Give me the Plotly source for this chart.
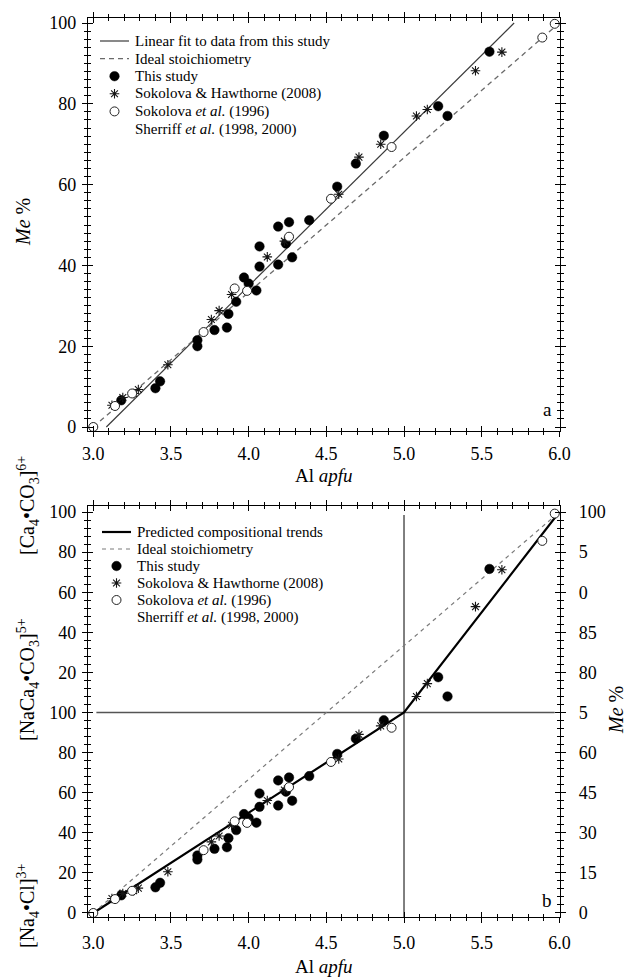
import plotly.graph_objects as go

# ---------------------------------------------------------------------------
# Data: Me % versus Al apfu
# ---------------------------------------------------------------------------
# This study (filled circles)
al_this = [3.18, 3.40, 3.43, 3.67, 3.67, 3.78, 3.86, 3.87, 3.92, 3.97, 4.00,
           4.05, 4.07, 4.07, 4.19, 4.19, 4.24, 4.26, 4.28, 4.39, 4.57, 4.69,
           4.87, 5.22, 5.28, 5.55]
me_this = [6.6, 9.6, 11.3, 21.5, 20.0, 24.0, 24.6, 28.0, 31.0, 37.0, 35.5,
           33.8, 44.7, 39.7, 49.6, 40.2, 45.4, 50.7, 42.0, 51.2, 59.5, 65.2,
           72.1, 79.4, 77.0, 92.9]

# Sokolova & Hawthorne (2008) (asterisks)
al_sh08 = [3.12, 3.19, 3.26, 3.29, 3.48, 3.76, 3.81, 3.89, 4.12, 4.23, 4.58,
           4.71, 4.85, 5.08, 5.15, 5.46, 5.63]
me_sh08 = [5.4, 7.3, 8.3, 9.3, 15.4, 26.6, 28.8, 32.8, 42.1, 46.0, 57.6,
           66.8, 70.0, 77.0, 78.6, 88.2, 92.8]

# Sokolova et al. (1996), Sherriff et al. (1998, 2000) (open circles)
al_sk96 = [3.00, 3.14, 3.25, 3.71, 3.91, 3.99, 4.26, 4.53, 4.92, 5.89, 5.97]
me_sk96 = [0.0, 5.2, 8.3, 23.5, 34.3, 33.7, 47.1, 56.5, 69.3, 96.4, 99.8]

# Linear fit to this study
fit_slope = 38.10
fit_intercept = -117.5

# Ideal stoichiometry
ideal_al = [3.0, 6.0]
ideal_me = [0.0, 100.0]

# Predicted compositional trend (Na4Cl -> NaCa4CO3 -> Ca4CO3)
trend_al = [3.0, 5.0, 6.0]
trend_me = [0.0, 75.0, 100.0]
join_al = 5.0
join_me = 75.0

# Tick labels
x_ticks = [3.0, 3.5, 4.0, 4.5, 5.0, 5.5, 6.0]
x_ticktext = ["3.0", "3.5", "4.0", "4.5", "5.0", "5.5", "6.0"]
a_y_ticks = [0, 20, 40, 60, 80, 100]
b_left_ticks = [0, 20, 40, 60, 80, 100, 120, 140, 160, 180, 200]
b_left_ticktext = ["0", "20", "40", "60", "80", "100", "20", "40", "60", "80", "100"]
b_right_me = [0, 15, 30, 45, 60, 75, 80, 85, 90, 95, 100]
b_right_ticktext = ["0", "15", "30", "45", "60", "5", "80", "85", "0", "5", "100"]

# Legend labels
lbl_fit = "Linear fit to data from this study"
lbl_trend = "Predicted compositional trends"
lbl_ideal = "Ideal stoichiometry"
lbl_this = "This study"
lbl_sh08 = "Sokolova &amp; Hawthorne (2008)"
lbl_sk96 = "Sokolova <i>et al.</i> (1996)"
lbl_sk96b = "Sherriff <i>et al.</i> (1998, 2000)"


def me_to_join(m):
    """Me % -> position along the two joins (0-100 lower, 100-200 upper)."""
    if m <= join_me:
        return m / join_me * 100.0
    return 100.0 + (m - join_me) / (100.0 - join_me) * 100.0


def conv(values):
    return [me_to_join(v) for v in values]


# ---------------------------------------------------------------------------
# Page geometry
# ---------------------------------------------------------------------------
W, H = 628, 978
M_L, M_R, M_T, M_B = 88, 68, 18, 61
PW, PH = W - M_L - M_R, H - M_T - M_B


def px_x(p):
    return (p - M_L) / PW


def px_y(p):
    return (H - M_B - p) / PH


X_RANGE = [2.966, 6.004]
A_RANGE = [-0.99, 101.24]
B_RANGE = [-2.0, 203.0]
A_DOMAIN = [px_y(431), 1.0]
B_DOMAIN = [0.0, px_y(506)]

FONT = "Liberation Serif, Times New Roman, serif"
tickfont = dict(family=FONT, size=18, color="black")

fig = go.Figure()

# ---------------------------- styles ---------------------------------------
line_fit = dict(color="#3a3a3a", width=1.2)
line_ideal_a = dict(color="#6a6a6a", width=1.3, dash="5px,4px")
line_ideal_b = dict(color="#7a7a7a", width=1.2, dash="4px,4px")
line_trend = dict(color="black", width=2.2)
line_guide = dict(color="#555555", width=1.5)
marker_this = dict(symbol="circle", size=9.5, color="black",
                   line=dict(color="black", width=0.5))
marker_sh08 = dict(symbol="asterisk-open", size=8, color="#151515",
                   line=dict(color="#151515", width=1.1))
marker_sk96 = dict(symbol="circle", size=9, color="white",
                   line=dict(color="#222222", width=1.0))

# ---------------------------- panel a --------------------------------------
fit_x = [(0 - fit_intercept) / fit_slope, (100 - fit_intercept) / fit_slope]
fit_y = [fit_slope * v + fit_intercept for v in fit_x]

fig.add_trace(go.Scatter(x=fit_x, y=fit_y, mode="lines", line=line_fit,
                         name=lbl_fit, showlegend=False, xaxis="x", yaxis="y"))
fig.add_trace(go.Scatter(x=ideal_al, y=ideal_me, mode="lines", line=line_ideal_a,
                         name=lbl_ideal, showlegend=False, xaxis="x", yaxis="y"))
fig.add_trace(go.Scatter(x=al_this, y=me_this, mode="markers", marker=marker_this,
                         name=lbl_this, showlegend=False, xaxis="x", yaxis="y"))
fig.add_trace(go.Scatter(x=al_sh08, y=me_sh08, mode="markers", marker=marker_sh08,
                         name=lbl_sh08, showlegend=False, xaxis="x", yaxis="y"))
fig.add_trace(go.Scatter(x=al_sk96, y=me_sk96, mode="markers", marker=marker_sk96,
                         name=lbl_sk96, showlegend=False, xaxis="x", yaxis="y"))

# ---------------------------- panel b --------------------------------------
guide_al_span = [3.02, 5.97]
guide_join_span = [-2.0, 198.5]
fig.add_trace(go.Scatter(x=guide_al_span, y=[me_to_join(join_me)] * 2, mode="lines",
                         line=line_guide, showlegend=False, hoverinfo="skip",
                         xaxis="x2", yaxis="y2"))
fig.add_trace(go.Scatter(x=[join_al, join_al], y=guide_join_span, mode="lines",
                         line=line_guide, showlegend=False, hoverinfo="skip",
                         xaxis="x2", yaxis="y2"))
fig.add_trace(go.Scatter(x=trend_al, y=conv(trend_me), mode="lines", line=line_trend,
                         name=lbl_trend, showlegend=False, xaxis="x2", yaxis="y2"))
fig.add_trace(go.Scatter(x=ideal_al, y=conv(ideal_me), mode="lines", line=line_ideal_b,
                         name=lbl_ideal, showlegend=False, xaxis="x2", yaxis="y2"))
fig.add_trace(go.Scatter(x=al_this, y=conv(me_this), mode="markers", marker=marker_this,
                         name=lbl_this, showlegend=False, xaxis="x2", yaxis="y2"))
fig.add_trace(go.Scatter(x=al_sh08, y=conv(me_sh08), mode="markers", marker=marker_sh08,
                         name=lbl_sh08, showlegend=False, xaxis="x2", yaxis="y2"))
fig.add_trace(go.Scatter(x=al_sk96, y=conv(me_sk96), mode="markers", marker=marker_sk96,
                         name=lbl_sk96, showlegend=False, xaxis="x2", yaxis="y2"))


# ---------------------------------------------------------------------------
# Axes: ticks cross each frame edge (outside + inside copies on every side)
# ---------------------------------------------------------------------------
def axis(rng, direction, side, line, labels, minor_dtick, major=None, **kw):
    d = dict(range=rng, side=side, ticks=direction, ticklen=5, tickwidth=1.2,
             tickcolor="black", showline=line, linecolor="black", linewidth=1.3,
             showgrid=False, zeroline=False, showticklabels=labels,
             tickfont=tickfont, automargin=False,
             minor=dict(ticks=direction, ticklen=3, tickwidth=1.1,
                        tickcolor="black", dtick=minor_dtick, tick0=0,
                        showgrid=False))
    if major is not None:
        d.update(major)
    d.update(kw)
    return d


x_major = dict(tickmode="array", tickvals=x_ticks, ticktext=x_ticktext)
a_major = dict(tickmode="array", tickvals=a_y_ticks,
               ticktext=[str(v) for v in a_y_ticks])
b_left_major = dict(tickmode="array", tickvals=b_left_ticks, ticktext=b_left_ticktext)
b_right_major = dict(tickmode="array", tickvals=conv(b_right_me),
                     ticktext=b_right_ticktext)

layout_axes = {
    # panel a
    "xaxis": axis(X_RANGE, "outside", "bottom", True, True, 0.1, x_major,
                  domain=[0, 1], anchor="y", ticklabelstandoff=1),
    "xaxis3": axis(X_RANGE, "inside", "bottom", False, False, 0.1, x_major,
                   overlaying="x", anchor="y"),
    "xaxis4": axis(X_RANGE, "outside", "top", True, False, 0.1, x_major,
                   overlaying="x", anchor="y"),
    "xaxis5": axis(X_RANGE, "inside", "top", False, False, 0.1, x_major,
                   overlaying="x", anchor="y"),
    "yaxis": axis(A_RANGE, "outside", "left", True, True, 2, a_major,
                  domain=A_DOMAIN, anchor="x", ticklabelstandoff=2),
    "yaxis3": axis(A_RANGE, "inside", "left", False, False, 2, a_major,
                   overlaying="y", anchor="x"),
    "yaxis4": axis(A_RANGE, "outside", "right", True, False, 2, a_major,
                   overlaying="y", anchor="x"),
    "yaxis5": axis(A_RANGE, "inside", "right", False, False, 2, a_major,
                   overlaying="y", anchor="x"),
    # panel b
    "xaxis2": axis(X_RANGE, "outside", "bottom", True, True, 0.1, x_major,
                   domain=[0, 1], anchor="y2", ticklabelstandoff=4),
    "xaxis6": axis(X_RANGE, "inside", "bottom", False, False, 0.1, x_major,
                   overlaying="x2", anchor="y2"),
    "xaxis7": axis(X_RANGE, "outside", "top", True, False, 0.1, x_major,
                   overlaying="x2", anchor="y2"),
    "xaxis8": axis(X_RANGE, "inside", "top", False, False, 0.1, x_major,
                   overlaying="x2", anchor="y2"),
    "yaxis2": axis(B_RANGE, "outside", "left", True, True, 4, b_left_major,
                   domain=B_DOMAIN, anchor="x2", ticklabelstandoff=2),
    "yaxis6": axis(B_RANGE, "inside", "left", False, False, 4, b_left_major,
                   overlaying="y2", anchor="x2"),
    "yaxis7": axis(B_RANGE, "outside", "right", True, True, 4, b_right_major,
                   overlaying="y2", anchor="x2", ticklabelstandoff=9),
    "yaxis8": axis(B_RANGE, "inside", "right", False, False, 4, b_right_major,
                   overlaying="y2", anchor="x2"),
    # pixel-space axes for the legend keys
    "xaxis9": dict(range=[M_L, W - M_R], visible=False, overlaying="x",
                   anchor="y9", fixedrange=True),
    "yaxis9": dict(domain=[0, 1], range=[H - M_B, M_T], visible=False,
                   anchor="x9", fixedrange=True),
}

# empty traces so every overlay axis pair is instantiated
for xa, ya in [("x3", "y"), ("x4", "y"), ("x5", "y"), ("x", "y3"), ("x", "y4"),
               ("x", "y5"), ("x6", "y2"), ("x7", "y2"), ("x8", "y2"),
               ("x2", "y6"), ("x2", "y7"), ("x2", "y8")]:
    fig.add_trace(go.Scatter(x=[], y=[], xaxis=xa, yaxis=ya, showlegend=False,
                             hoverinfo="skip"))

# ---------------------------------------------------------------------------
# Legends (key + label per row)
# ---------------------------------------------------------------------------
legend_font = dict(family=FONT, size=15, color="black")
annotations = []


def draw_legend(rows, key_x0, key_x1, text_x, top_y, step):
    for i, (kind, style, label) in enumerate(rows):
        y = top_y + i * step
        if kind == "line":
            fig.add_trace(go.Scatter(x=[key_x0, key_x1], y=[y, y], mode="lines",
                                     line=style, showlegend=False, hoverinfo="skip",
                                     xaxis="x9", yaxis="y9"))
        elif kind == "marker":
            fig.add_trace(go.Scatter(x=[(key_x0 + key_x1) / 2], y=[y], mode="markers",
                                     marker=style, showlegend=False, hoverinfo="skip",
                                     xaxis="x9", yaxis="y9"))
        annotations.append(dict(text=label, x=text_x, y=y, xref="x9", yref="y9",
                                showarrow=False, font=legend_font,
                                xanchor="left", yanchor="middle"))


draw_legend([("line", line_fit, lbl_fit),
             ("line", line_ideal_a, lbl_ideal),
             ("marker", marker_this, lbl_this),
             ("marker", marker_sh08, lbl_sh08),
             ("marker", marker_sk96, lbl_sk96),
             (None, None, lbl_sk96b)],
            key_x0=100, key_x1=129, text_x=133, top_y=41, step=17.6)

draw_legend([("line", line_trend, lbl_trend),
             ("line", line_ideal_b, lbl_ideal),
             ("marker", marker_this, lbl_this),
             ("marker", marker_sh08, lbl_sh08),
             ("marker", marker_sk96, lbl_sk96),
             (None, None, lbl_sk96b)],
            key_x0=102, key_x1=131, text_x=135, top_y=532, step=17.0)

# ---------------------------------------------------------------------------
# Titles and side labels
# ---------------------------------------------------------------------------
title_font = dict(family=FONT, size=19, color="black")
me_font = dict(family=FONT, size=20, color="black")
formula_font = dict(family=FONT, size=20, color="black")


def note(text, x, y, font, angle=0):
    return dict(text=text, x=px_x(x), y=px_y(y), xref="paper", yref="paper",
                showarrow=False, font=font, textangle=angle,
                xanchor="center", yanchor="middle")


annotations += [
    note("Al <i>apfu</i>", 324, 475, title_font),
    note("Al <i>apfu</i>", 324, 966, title_font),
    note("<i>Me</i> %", 23, 222, me_font, -90),
    note("<i>Me</i> %", 616, 710, me_font, -90),
    note("[Ca<sub>4</sub>•CO<sub>3</sub>]<sup>6+</sup>", 28, 506, formula_font, -90),
    note("[NaCa<sub>4</sub>•CO<sub>3</sub>]<sup>5+</sup>", 28, 680, formula_font, -90),
    note("[Na<sub>4</sub>•Cl]<sup>3+</sup>", 28, 906, formula_font, -90),
    note("a", 547, 409, dict(family=FONT, size=19, color="black")),
    note("b", 547, 900, dict(family=FONT, size=19, color="black")),
]

fig.update_layout(
    width=W, height=H, template="none", showlegend=False,
    margin=dict(l=M_L, r=M_R, t=M_T, b=M_B, pad=0),
    paper_bgcolor="white", plot_bgcolor="rgba(0,0,0,0)",
    font=dict(family=FONT, color="black"),
    annotations=annotations,
    **layout_axes,
)

fig.write_html("out.html")
